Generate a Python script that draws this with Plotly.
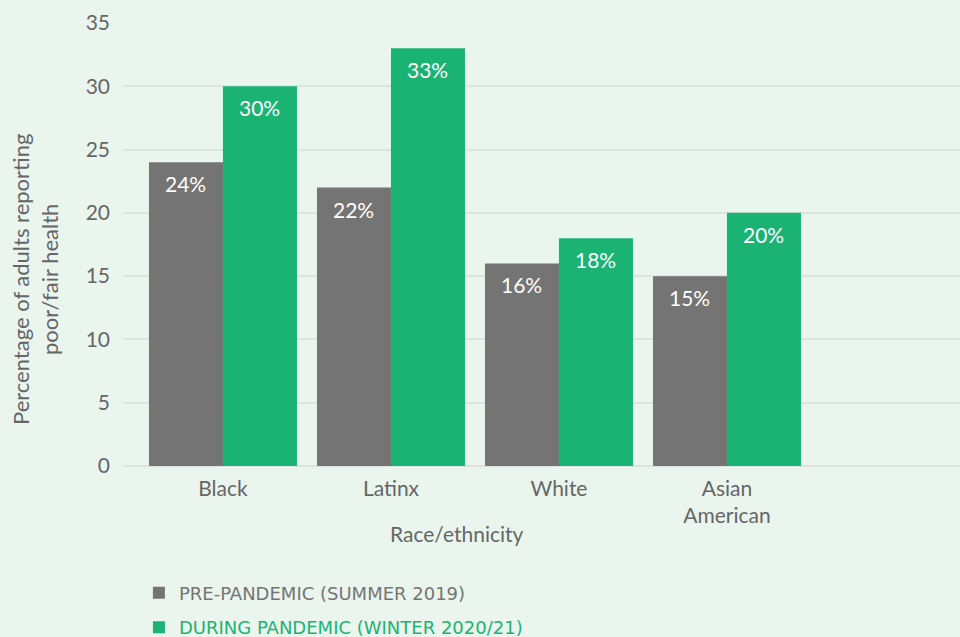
import plotly.graph_objects as go

# Share of adults reporting poor/fair health, by race/ethnicity
categories = ["Black", "Latinx", "White", "Asian<br>American"]
pre_pandemic = [24, 22, 16, 15]
during_pandemic = [30, 33, 18, 20]
series_names = ["PRE-PANDEMIC (SUMMER 2019)", "DURING PANDEMIC (WINTER 2020/21)"]
y_ticks = [0, 5, 10, 15, 20, 25, 30, 35]

GRAY = "#747474"
GREEN = "#1bb373"
BG = "#eaf5ee"
TEXT = "#666666"
FONT = "Lato"
FS = 21

W, H = 960, 637
L, R, T, B = 123, 0, 23, 171
pw, ph = W - L - R, H - T - B


def px_to_paper(ax, ay):
    """Page pixel position -> paper fractions of the plot area."""
    return (ax - L) / pw, (H - B - ay) / ph


fig = go.Figure()
for vals, name, color, grp in [
    (pre_pandemic, series_names[0], GRAY, "pre"),
    (during_pandemic, series_names[1], GREEN, "during"),
]:
    fig.add_trace(go.Bar(
        x=categories, y=vals,
        name=f"<span style='color:{color}'>{name}</span>",
        legendgroup=grp,
        marker=dict(color=color, line=dict(width=0)),
        hoverinfo="skip",
    ))

# value labels placed just inside the top of each bar
for vals, shift in [(pre_pandemic, -37), (during_pandemic, 37)]:
    for cat, v in zip(categories, vals):
        fig.add_annotation(
            x=cat, y=v, xref="x", yref="y",
            text=f"{v}%", showarrow=False,
            xshift=shift, yshift=-7, yanchor="top",
            font=dict(color="white", size=FS, family=FONT),
        )

# axis titles
xt, yt = px_to_paper(457, 533)
fig.add_annotation(
    x=xt, y=yt, xref="paper", yref="paper",
    xanchor="center", yanchor="middle",
    text="Race/ethnicity", showarrow=False,
    font=dict(size=FS, color=TEXT, family=FONT),
)
xy, yy = px_to_paper(35, 280)
fig.add_annotation(
    x=xy, y=yy, xref="paper", yref="paper",
    xanchor="center", yanchor="middle",
    text="Percentage of adults reporting<br>poor/fair health",
    textangle=-90, showarrow=False,
    font=dict(size=22, color=TEXT, family=FONT),
)

fig.update_layout(
    width=W, height=H,
    margin=dict(l=L, r=R, t=T, b=B, autoexpand=False),
    paper_bgcolor=BG, plot_bgcolor=BG,
    barmode="group", bargap=0.119, bargroupgap=0,
    font=dict(family=FONT, color=TEXT, size=FS),
    showlegend=True,
    legend=dict(
        x=0.019, xanchor="left", y=-0.245, yanchor="top",
        orientation="v", bgcolor="rgba(0,0,0,0)",
        font=dict(family="DejaVu Sans", size=18, color=TEXT),
        tracegroupgap=8, itemwidth=30,
    ),
)
fig.update_xaxes(
    type="category", range=[-0.595, 4.387],
    showgrid=False, zeroline=False, showline=False, ticks="",
    ticklabelstandoff=8,
    tickfont=dict(size=FS, color=TEXT, family=FONT),
    fixedrange=True,
)
fig.update_yaxes(
    range=[0, 35], tickvals=y_ticks,
    showgrid=True, gridcolor="#dbe4de", gridwidth=2,
    zeroline=True, zerolinecolor="#dbe4de", zerolinewidth=2,
    showline=False, ticks="", ticklabelstandoff=12,
    tickfont=dict(size=FS, color=TEXT, family=FONT),
    fixedrange=True,
)

fig.write_html("out.html", config={"displayModeBar": False})
